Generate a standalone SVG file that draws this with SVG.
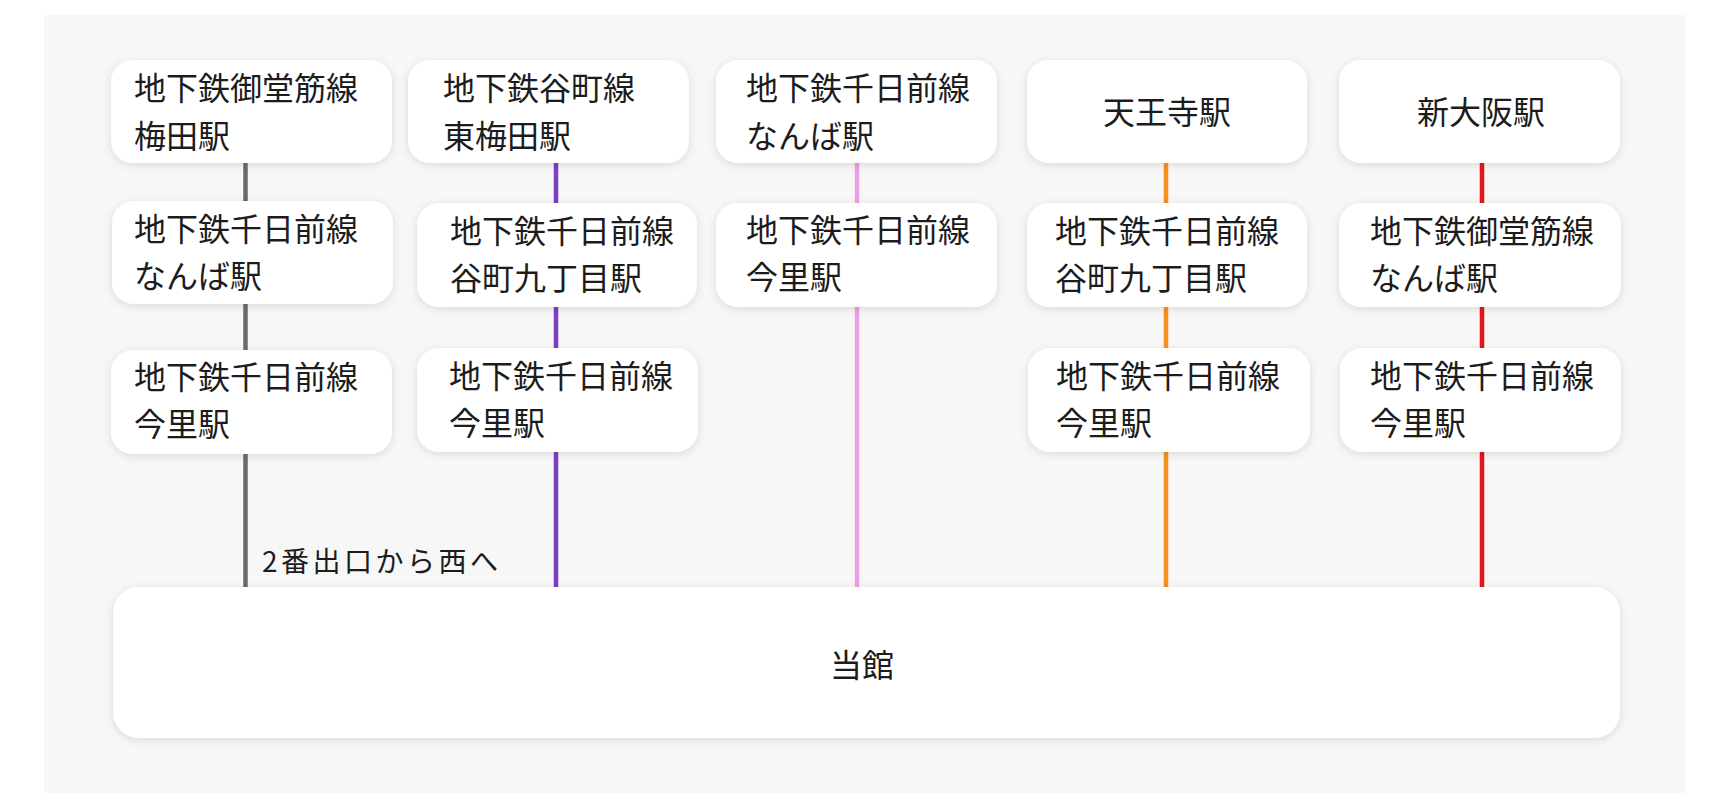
<svg xmlns="http://www.w3.org/2000/svg" width="1731" height="803" viewBox="0 0 1731 803">
  <defs>
    <filter id="sh" x="-10%" y="-20%" width="120%" height="140%">
      <feDropShadow dx="0" dy="2" stdDeviation="4" flood-color="#000" flood-opacity="0.12"/>
    </filter>
    <style>
      .node rect { fill: #ffffff; filter: url(#sh); }
      text { font-family: "Noto Sans CJK JP", "Noto Sans", sans-serif; fill: #1c1c1c; }
      .t { font-size: 32px; }
      .c { text-anchor: middle; }
      .lbl { font-size: 28px; letter-spacing: 3.5px; }
      .ln { stroke-width: 4.5; fill: none; }
    </style>
  </defs>
  <rect x="0" y="0" width="1731" height="803" fill="#ffffff"/>
  <rect x="44" y="15" width="1642" height="778" fill="#f7f7f7"/>

  <g id="connectors">
    <line class="ln" x1="245.5" y1="163" x2="245.5" y2="588" stroke="#6b6b6b"/>
    <line class="ln" x1="556" y1="163" x2="556" y2="588" stroke="#7e3fbf"/>
    <line class="ln" x1="857" y1="163" x2="857" y2="588" stroke="#e8a2e4"/>
    <line class="ln" x1="1166" y1="163" x2="1166" y2="588" stroke="#f4911f"/>
    <line class="ln" x1="1482" y1="163" x2="1482" y2="588" stroke="#e3161f"/>
    <text class="lbl" x="262" y="572">2番出口から西へ</text>
  </g>

  <g id="n-c1r1" class="node"><rect x="111" y="60" width="281" height="103" rx="22"/>
    <text class="t" x="134" y="100">地下鉄御堂筋線</text><text class="t" x="134" y="148">梅田駅</text></g>
  <g id="n-c2r1" class="node"><rect x="408" y="60" width="281" height="103" rx="22"/>
    <text class="t" x="443" y="100">地下鉄谷町線</text><text class="t" x="443" y="148">東梅田駅</text></g>
  <g id="n-c3r1" class="node"><rect x="716" y="60" width="281" height="103" rx="22"/>
    <text class="t" x="746" y="100">地下鉄千日前線</text><text class="t" x="746" y="148">なんば駅</text></g>
  <g id="n-c4r1" class="node"><rect x="1027" y="60" width="280" height="103" rx="22"/>
    <text class="t c" x="1167" y="124">天王寺駅</text></g>
  <g id="n-c5r1" class="node"><rect x="1339" y="60" width="281" height="103" rx="22"/>
    <text class="t c" x="1481" y="124">新大阪駅</text></g>

  <g id="n-c1r2" class="node"><rect x="112" y="201" width="281" height="103" rx="22"/>
    <text class="t" x="134" y="241">地下鉄千日前線</text><text class="t" x="134" y="288">なんば駅</text></g>
  <g id="n-c2r2" class="node"><rect x="417" y="203" width="280" height="104" rx="22"/>
    <text class="t" x="450" y="243">地下鉄千日前線</text><text class="t" x="450" y="290">谷町九丁目駅</text></g>
  <g id="n-c3r2" class="node"><rect x="716" y="203" width="281" height="104" rx="22"/>
    <text class="t" x="746" y="242">地下鉄千日前線</text><text class="t" x="746" y="289">今里駅</text></g>
  <g id="n-c4r2" class="node"><rect x="1027" y="203" width="280" height="104" rx="22"/>
    <text class="t" x="1055" y="243">地下鉄千日前線</text><text class="t" x="1055" y="290">谷町九丁目駅</text></g>
  <g id="n-c5r2" class="node"><rect x="1339" y="203" width="282" height="104" rx="22"/>
    <text class="t" x="1370" y="243">地下鉄御堂筋線</text><text class="t" x="1370" y="290">なんば駅</text></g>

  <g id="n-c1r3" class="node"><rect x="111" y="350" width="281" height="104" rx="22"/>
    <text class="t" x="134" y="389">地下鉄千日前線</text><text class="t" x="134" y="436">今里駅</text></g>
  <g id="n-c2r3" class="node"><rect x="417" y="348" width="281" height="104" rx="22"/>
    <text class="t" x="449" y="388">地下鉄千日前線</text><text class="t" x="449" y="435">今里駅</text></g>
  <g id="n-c4r3" class="node"><rect x="1028" y="348" width="282" height="104" rx="22"/>
    <text class="t" x="1056" y="388">地下鉄千日前線</text><text class="t" x="1056" y="435">今里駅</text></g>
  <g id="n-c5r3" class="node"><rect x="1340" y="348" width="281" height="104" rx="22"/>
    <text class="t" x="1370" y="388">地下鉄千日前線</text><text class="t" x="1370" y="435">今里駅</text></g>

  <g id="n-main" class="node"><rect x="113" y="587" width="1507" height="151" rx="26"/>
    <text class="t c" x="862" y="677">当館</text></g>
</svg>
